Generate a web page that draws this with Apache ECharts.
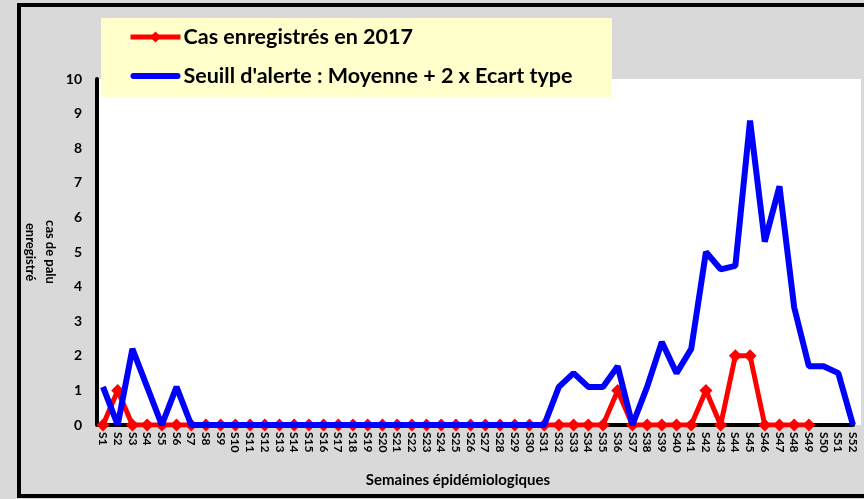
<!DOCTYPE html>
<html>
<head>
<meta charset="utf-8">
<script src="https://cdn.jsdelivr.net/npm/echarts@6/dist/echarts.min.js"></script>
<style>html,body{margin:0;padding:0;background:#d9d9d9}#c{width:864px;height:499px}</style>
</head>
<body>
<div id="c"></div>
<script>
const weeks = ['S1','S2','S3','S4','S5','S6','S7','S8','S9','S10','S11','S12','S13','S14','S15','S16','S17','S18','S19','S20','S21','S22','S23','S24','S25','S26','S27','S28','S29','S30','S31','S32','S33','S34','S35','S36','S37','S38','S39','S40','S41','S42','S43','S44','S45','S46','S47','S48','S49','S50','S51','S52'];
const cas2017 = [0,1,0,0,0,0,0,0,0,0,0,0,0,0,0,0,0,0,0,0,0,0,0,0,0,0,0,0,0,0,0,0,0,0,0,1,0,0,0,0,0,1,0,2,2,0,0,0,0,null,null,null];
const seuil = [1.1,0,2.2,1.1,0,1.1,0,0,0,0,0,0,0,0,0,0,0,0,0,0,0,0,0,0,0,0,0,0,0,0,0,1.1,1.5,1.1,1.1,1.7,0,1.1,2.4,1.5,2.2,5.0,4.5,4.6,8.8,5.3,6.9,3.4,1.7,1.7,1.5,0];
const yTicks = [0,1,2,3,4,5,6,7,8,9,10];
const seriesNames = ['Cas enregistrés en 2017', "Seuill d'alerte : Moyenne + 2 x Ecart type"];

const FONT = 'Lato';
const chart = echarts.init(document.getElementById('c'));
chart.setOption({
  backgroundColor: '#d9d9d9',
  animation: false,
  textStyle: { fontFamily: FONT },
  graphic: [
    { type: 'rect', z: -10, shape: { x: 97, y: 79, width: 764, height: 346 }, style: { fill: '#ffffff' } },
    { type: 'rect', z: -5, shape: { x: 101, y: 18, width: 511, height: 79 }, style: { fill: '#ffffcc' } },
    { type: 'rect', z: 50, shape: { x: 19, y: 5, width: 870, height: 491 }, style: { fill: null, stroke: '#000', lineWidth: 4 } }
  ],
  legend: {
    orient: 'vertical',
    left: 128,
    top: 24,
    padding: 0,
    itemWidth: 50,
    itemHeight: 14,
    itemGap: 13,
    data: [
      { name: seriesNames[0], lineStyle: { width: 5, color: '#ff0000' } },
      { name: seriesNames[1], icon: 'path://M3,0 L47,0 A3,3 0 0 1 47,6 L3,6 A3,3 0 0 1 3,0 Z', itemStyle: { color: '#0000ff' } }
    ],
    textStyle: { fontFamily: FONT, fontWeight: 'bold', fontSize: 21.5, lineHeight: 26, color: '#000', padding: [0,0,0,-2] }
  },
  grid: { left: 103, right: 11, top: 79, bottom: 74, containLabel: false, outerBoundsMode: 'none' },
  xAxis: {
    type: 'category',
    data: weeks,
    boundaryGap: false,
    name: 'Semaines épidémiologiques',
    nameLocation: 'middle',
    nameGap: 48,
    nameMoveOverlap: false,
    nameTextStyle: { fontFamily: FONT, fontWeight: 'bold', fontSize: 15, color: '#000', padding: [0, 40, 0, 0] },
    axisLine: { lineStyle: { color: '#000', width: 4 } },
    axisTick: { show: false },
    axisLabel: { interval: 0, rotate: -90, margin: 7, fontFamily: FONT, fontWeight: 'bold', fontSize: 12, color: '#000' },
    splitLine: { show: false }
  },
  yAxis: {
    type: 'value',
    min: yTicks[0],
    max: yTicks[yTicks.length - 1],
    interval: 1,
    offset: 6,
    name: 'cas de palu\nenregistré',
    nameLocation: 'middle',
    nameRotate: -90,
    nameGap: 37,
    nameMoveOverlap: false,
    nameTextStyle: { fontFamily: FONT, fontWeight: 'bold', fontSize: 13, color: '#000', lineHeight: 20, padding: [0, 0, 12, 0] },
    axisLine: { show: true, lineStyle: { color: '#000', width: 4 } },
    axisTick: { show: false },
    axisLabel: { margin: 15, fontFamily: FONT, fontWeight: 'bold', fontSize: 14, color: '#000' },
    splitLine: { show: false }
  },
  series: [
    {
      name: seriesNames[0],
      type: 'line',
      data: cas2017,
      symbol: 'diamond',
      symbolSize: 13,
      showAllSymbol: true,
      color: '#ff0000',
      itemStyle: { color: '#ff0000' },
      lineStyle: { color: '#ff0000', width: 5 },
      z: 3
    },
    {
      name: seriesNames[1],
      type: 'line',
      data: seuil,
      symbol: 'none',
      color: '#0000ff',
      lineStyle: { color: '#0000ff', width: 6 },
      z: 4
    }
  ]
});
</script>
</body>
</html>
